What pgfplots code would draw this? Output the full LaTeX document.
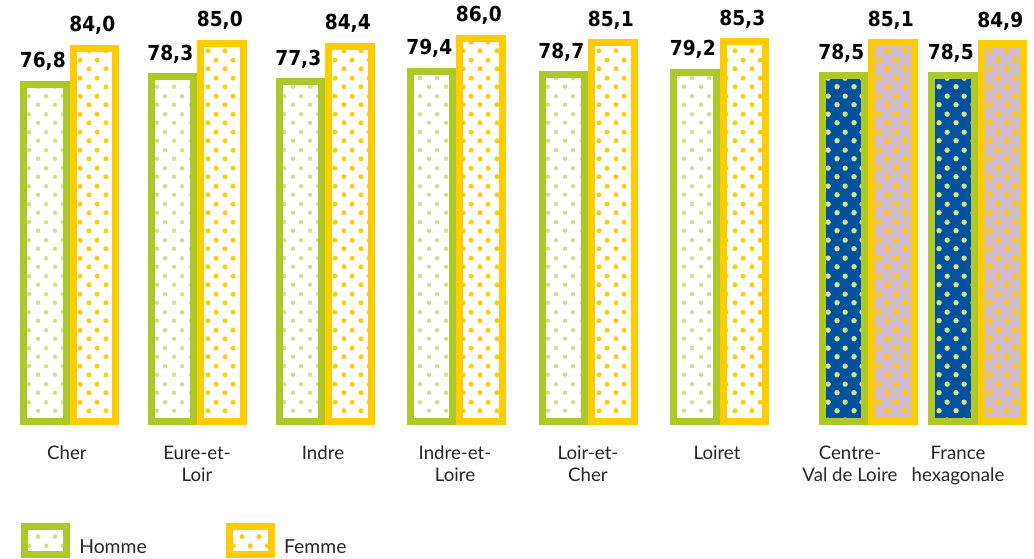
\documentclass[border=0pt]{standalone}
\usepackage{pgfplots}
\pgfplotsset{compat=1.18}
\usepackage{pgfplotstable}
\usetikzlibrary{patterns}
\usepackage{fontspec}
\setmainfont{Lato}
\newfontfamily\valfont{DejaVu Sans Condensed}
\definecolor{vert}{HTML}{AEC829}
\definecolor{jaune}{HTML}{FFCC00}
\definecolor{vertclair}{HTML}{CDE08A}
\definecolor{bleu}{HTML}{00529E}
\definecolor{rose}{HTML}{D3BCCB}
\definecolor{pointbleu}{HTML}{D6E38C}
\pgfdeclarepatternformonly{dotsH}{\pgfqpoint{0pt}{0pt}}{\pgfqpoint{12.75pt}{13.5pt}}{\pgfqpoint{12.75pt}{13.5pt}}{%
\pgfpathcircle{\pgfqpoint{3.1875pt}{3.375pt}}{1.75pt}\pgfpathcircle{\pgfqpoint{9.5625pt}{10.125pt}}{1.75pt}\pgfusepath{fill}}
\pgfdeclarepatternformonly{dotsF}{\pgfqpoint{0pt}{0pt}}{\pgfqpoint{12.75pt}{13.5pt}}{\pgfqpoint{12.75pt}{13.5pt}}{%
\pgfpathcircle{\pgfqpoint{3.1875pt}{3.375pt}}{1.95pt}\pgfpathcircle{\pgfqpoint{9.5625pt}{10.125pt}}{1.95pt}\pgfusepath{fill}}
\pgfdeclarepatternformonly{dotsC}{\pgfqpoint{0pt}{0pt}}{\pgfqpoint{12.75pt}{13.5pt}}{\pgfqpoint{12.75pt}{13.5pt}}{%
\pgfpathcircle{\pgfqpoint{3.1875pt}{3.375pt}}{2.15pt}\pgfpathcircle{\pgfqpoint{9.5625pt}{10.125pt}}{2.15pt}\pgfusepath{fill}}

\pgfplotstableread{
x v
44.75 76.8
172.25 78.3
300.25 77.3
431.25 79.4
563.25 78.7
694.75 79.2
}\hommeReg
\pgfplotstableread{
x v
94.25 84.0
221.75 85.0
349.75 84.4
480.75 86.0
612.75 85.1
744.25 85.3
}\femmeReg
\pgfplotstableread{
x v
843.25 78.5
952.75 78.5
}\hommeAgg
\pgfplotstableread{
x v
892.75 85.1
1002.25 84.9
}\femmeAgg

\begin{document}
\begin{tikzpicture}
\useasboundingbox (0,0) rectangle (775.5pt,419.25pt);
\begin{axis}[
  at={(0pt,103.125pt)}, anchor=south west,
  scale only axis, width=775.5pt, height=316.125pt,
  xmin=0, xmax=1034, ymin=0, ymax=84.3,
  clip=false,
  axis line style={draw=none}, tick style={draw=none},
  ytick=\empty,
  xtick={67,197,323,455,588,717,850,958},
  xticklabels={Cher,{Eure-et-\\Loir},Indre,{Indre-et-\\Loire},{Loir-et-\\Cher},Loiret,{Centre-\\Val de Loire},{France\\hexagonale}},
  xticklabel style={font=\fontsize{14}{16.5}\selectfont, text=black!85, align=center, anchor=north, inner sep=0pt, yshift=-13.8pt},
  ybar, bar shift=0pt, bar width=42.5,
  /pgf/number format/assume math mode=true,
  nodes near coords,
  point meta=explicit,
  nodes near coords style={font=\valfont\bfseries\fontsize{15.5}{16}\selectfont, text=black, anchor=base, yshift=12.4pt, xshift=-1.5pt, inner sep=0pt,
     /pgf/number format/.cd, fixed, fixed zerofill, precision=1, use comma},
  legend image code/.code={\draw[#1, line width=3.75pt] (0pt,-5pt) rectangle (31.5pt,16pt);},
  legend style={draw=none, fill=none, inner sep=0pt, at={(axis description cs:0.0209,-0.242)}, anchor=north west,
     font=\fontsize{14.5}{16}\selectfont, text=black!85,
     /tikz/every odd column/.append style={column sep=5.8pt},
     /tikz/every even column/.append style={column sep=58pt}},
  legend columns=2, legend cell align=left,
]
\addplot[draw=vert, line width=5.25pt, preaction={fill=white}, preaction={pattern=dotsH, pattern color=vertclair}]
  table[x=x, y expr=\thisrow{v}-9.4, meta=v] {\hommeReg};
\addlegendentry{Homme}
\addplot[draw=jaune, line width=5.25pt, preaction={fill=white}, preaction={pattern=dotsF, pattern color=jaune}]
  table[x=x, y expr=\thisrow{v}-9.4, meta=v] {\femmeReg};
\addlegendentry{Femme}
\addplot[forget plot, draw=vert, line width=5.25pt, preaction={fill=bleu}, preaction={pattern=dotsC, pattern color=pointbleu}]
  table[x=x, y expr=\thisrow{v}-9.4, meta=v] {\hommeAgg};
\addplot[forget plot, draw=jaune, line width=5.25pt, preaction={fill=rose}, preaction={pattern=dotsC, pattern color=jaune}]
  table[x=x, y expr=\thisrow{v}-9.4, meta=v] {\femmeAgg};
\end{axis}
\end{tikzpicture}
\end{document}
